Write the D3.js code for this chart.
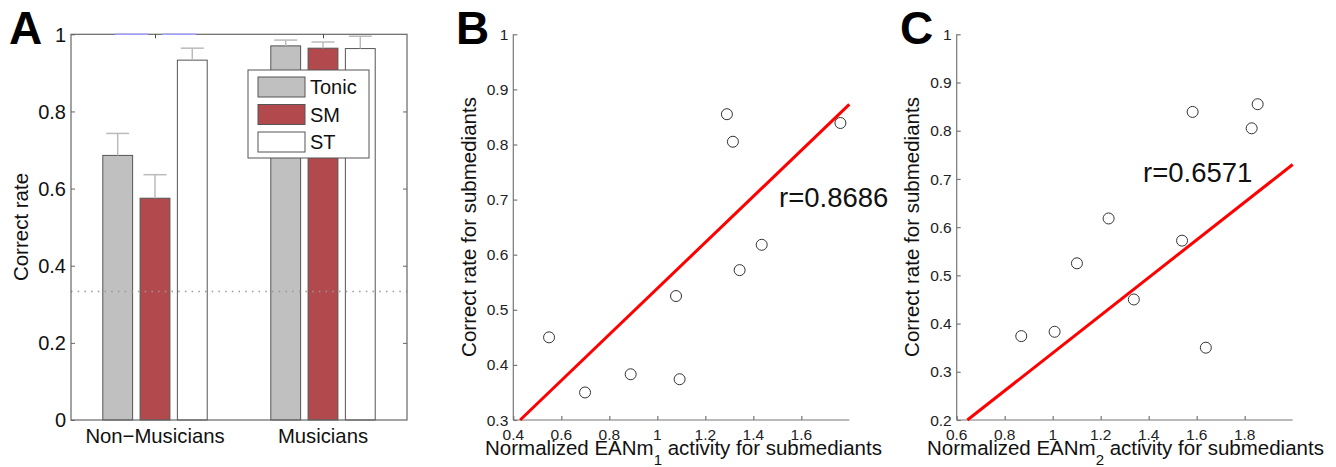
<!DOCTYPE html>
<html>
<head>
<meta charset="utf-8">
<script src="https://cdn.jsdelivr.net/npm/d3@7"></script>
<style>
  body { margin: 0; background: #fff; }
  svg { display: block; font-family: "Liberation Sans", Arial, sans-serif; }
</style>
</head>
<body>
<div id="chart"></div>
<script>
// ---- data ----
var groups = ["Non\u2212Musicians", "Musicians"];
var series = ["Tonic", "SM", "ST"];
var seriesColors = ["#c0c0c0", "#b24a4d", "#ffffff"];
var meanNonMus = [0.686, 0.575, 0.933];
var meanMus = [0.970, 0.964, 0.963];
var semNonMus = [0.057, 0.061, 0.031];
var semMus = [0.015, 0.016, 0.032];
var chanceLevel = 1 / 3;
var sigLines = [[0.762, 0.958], [1.042, 1.244]];
var ticksA = [0, 0.2, 0.4, 0.6, 0.8, 1];

var correctRate = [0.450, 0.350, 0.383, 0.374, 0.525, 0.572, 0.618, 0.855, 0.805, 0.839];
var eanm1 = [0.549, 0.699, 0.889, 1.093, 1.078, 1.343, 1.435, 1.290, 1.315, 1.763];
var eanm2 = [1.338, 1.638, 1.008, 0.869, 1.101, 1.539, 1.233, 1.854, 1.829, 1.583];
var fitB = [0.4177, 0.121];   // slope, intercept
var fitC = [0.391, -0.052];
var rB = "r=0.8686";
var rC = "r=0.6571";
var ticksBx = [0.4, 0.6, 0.8, 1, 1.2, 1.4, 1.6];
var ticksBy = [0.3, 0.4, 0.5, 0.6, 0.7, 0.8, 0.9, 1];
var ticksCx = [0.6, 0.8, 1, 1.2, 1.4, 1.6, 1.8];
var ticksCy = [0.2, 0.3, 0.4, 0.5, 0.6, 0.7, 0.8, 0.9, 1];

var W = 1336, H = 467;
var svg = d3.select("#chart").append("svg")
	.attr("width", W)
	.attr("height", H);

var fmt = d => d3.format("")(+d.toFixed(2));

// ================= Panel A =================
var xA = d3.scaleLinear().domain([0.5, 2.5]).range([71, 407]);
var yA = d3.scaleLinear().domain([0, 1]).range([420, 34.3]);
var xInner = d3.scaleBand().domain(series).range([-0.333, 0.333]).paddingInner(0.2).paddingOuter(0.1);
var pxPerUnit = xA(1) - xA(0);

var barData = [];
groups.forEach(function(g, gi) {
	var means = gi === 0 ? meanNonMus : meanMus;
	var sems = gi === 0 ? semNonMus : semMus;
	series.forEach(function(s, si) {
		barData.push({ g: gi + 1, s: s, si: si, v: means[si], e: sems[si] });
	});
});

var gA = svg.append("g");

// bars
gA.selectAll("rect.bar")
	.data(barData)
	.enter()
	.append("rect")
	.attr("class", "bar")
	.attr("x", d => xA(d.g + xInner(d.s)))
	.attr("y", d => yA(d.v))
	.attr("width", xInner.bandwidth() * pxPerUnit)
	.attr("height", d => yA(0) - yA(d.v))
	.attr("fill", d => seriesColors[d.si])
	.attr("stroke", "#555")
	.attr("stroke-width", 1);

// error bars (upper only)
var eb = gA.selectAll("g.err")
	.data(barData)
	.enter()
	.append("g")
	.attr("class", "err")
	.attr("stroke", "#bbb")
	.attr("stroke-width", 1.5);
eb.append("line")
	.attr("x1", d => xA(d.g + xInner(d.s) + xInner.bandwidth() / 2))
	.attr("x2", d => xA(d.g + xInner(d.s) + xInner.bandwidth() / 2))
	.attr("y1", d => yA(d.v))
	.attr("y2", d => yA(d.v + d.e));
eb.append("line")
	.attr("x1", d => xA(d.g + xInner(d.s) + xInner.bandwidth() / 2) - 11.5)
	.attr("x2", d => xA(d.g + xInner(d.s) + xInner.bandwidth() / 2) + 11.5)
	.attr("y1", d => yA(d.v + d.e))
	.attr("y2", d => yA(d.v + d.e));

// chance line
gA.append("line")
	.attr("x1", xA(0.5)).attr("x2", xA(2.5))
	.attr("y1", yA(chanceLevel)).attr("y2", yA(chanceLevel))
	.attr("stroke", "#999")
	.attr("stroke-width", 1.5)
	.attr("stroke-dasharray", "1.5,5.2");

// box
gA.append("rect")
	.attr("x", xA(0.5)).attr("y", yA(1))
	.attr("width", xA(2.5) - xA(0.5))
	.attr("height", yA(0) - yA(1))
	.attr("fill", "none")
	.attr("stroke", "#666")
	.attr("stroke-width", 1.2);

// significance lines
gA.selectAll("line.sig")
	.data(sigLines)
	.enter()
	.append("line")
	.attr("class", "sig")
	.attr("x1", d => xA(d[0])).attr("x2", d => xA(d[1]))
	.attr("y1", yA(1)).attr("y2", yA(1))
	.attr("stroke", "#a0a0ff")
	.attr("stroke-width", 1.5);

// y axis ticks (left + right, inward)
gA.append("g")
	.attr("transform", `translate(${xA(0.5)},0)`)
	.call(d3.axisRight(yA).tickValues(ticksA).tickSize(4).tickFormat(""))
	.call(g => g.select(".domain").remove())
	.call(g => g.selectAll("line").attr("stroke", "#666"));
gA.append("g")
	.attr("transform", `translate(${xA(2.5)},0)`)
	.call(d3.axisLeft(yA).tickValues(ticksA.slice(1, -1)).tickSize(4).tickFormat(""))
	.call(g => g.select(".domain").remove())
	.call(g => g.selectAll("line").attr("stroke", "#666"));
gA.append("g")
	.attr("transform", `translate(0,${yA(1)})`)
	.call(d3.axisBottom(xA).tickValues([1, 2]).tickSize(4).tickFormat(""))
	.call(g => g.select(".domain").remove())
	.call(g => g.selectAll("line").attr("stroke", "#444"));

gA.selectAll("text.ytickA")
	.data(ticksA)
	.enter()
	.append("text")
	.attr("class", "ytickA")
	.attr("x", 66)
	.attr("y", d => yA(d))
	.attr("dy", "0.36em")
	.attr("text-anchor", "end")
	.attr("font-size", 20)
	.attr("fill", "#111")
	.text(fmt);

gA.selectAll("text.xtickA")
	.data(groups)
	.enter()
	.append("text")
	.attr("class", "xtickA")
	.attr("x", (d, i) => xA(i + 1))
	.attr("y", 443)
	.attr("text-anchor", "middle")
	.attr("font-size", 20.3)
	.attr("fill", "#111")
	.text(d => d);

gA.append("text")
	.attr("transform", "translate(27.5,227) rotate(-90)")
	.attr("text-anchor", "middle")
	.attr("font-size", 20.5)
	.attr("fill", "#111")
	.text("Correct rate");

// legend
var leg = gA.append("g").attr("transform", "translate(248,70)");
leg.append("rect")
	.attr("width", 121).attr("height", 88)
	.attr("fill", "#fff")
	.attr("stroke", "#555")
	.attr("stroke-width", 1);
var li = leg.selectAll("g.li")
	.data(series)
	.enter()
	.append("g")
	.attr("class", "li")
	.attr("transform", (d, i) => `translate(10,${7 + i * 27.5})`);
li.append("rect")
	.attr("width", 47).attr("height", 20)
	.attr("fill", (d, i) => seriesColors[i])
	.attr("stroke", "#555");
li.append("text")
	.attr("x", 52).attr("y", 10)
	.attr("dy", "0.36em")
	.attr("font-size", 20)
	.attr("fill", "#111")
	.text(d => d);

gA.append("text")
	.attr("x", 9).attr("y", 44)
	.attr("font-size", 46).attr("font-weight", "bold")
	.text("A");

// ================= Scatter panels =================
function scatter(opt) {
	var x = d3.scaleLinear().domain(opt.xd).range(opt.xr);
	var y = d3.scaleLinear().domain(opt.yd).range([420, 34.3]);
	var g = svg.append("g");

	g.append("g")
		.attr("transform", `translate(0,${y(opt.yd[0])})`)
		.call(d3.axisTop(x).tickValues(opt.xt).tickSize(4).tickFormat(""))
		.call(s => s.select(".domain").attr("d", `M${opt.xr[0]},0H${opt.xr[1]}`))
		.call(s => s.selectAll("path,line").attr("stroke", "#777").attr("stroke-width", 1.2));
	g.append("g")
		.attr("transform", `translate(${x(opt.xd[0])},0)`)
		.call(d3.axisRight(y).tickValues(opt.yt).tickSize(4).tickFormat(""))
		.call(s => s.select(".domain").attr("d", `M0,${y(opt.yd[1])}V${y(opt.yd[0])}`))
		.call(s => s.selectAll("path,line").attr("stroke", "#777").attr("stroke-width", 1.2));

	g.selectAll("text.yt")
		.data(opt.yt)
		.enter()
		.append("text")
		.attr("x", x(opt.xd[0]) - 5)
		.attr("y", d => y(d))
		.attr("dy", "0.36em")
		.attr("text-anchor", "end")
		.attr("font-size", 15.5)
		.attr("fill", "#222")
		.text(fmt);
	g.selectAll("text.xt")
		.data(opt.xt)
		.enter()
		.append("text")
		.attr("x", d => x(d))
		.attr("y", 440)
		.attr("text-anchor", "middle")
		.attr("font-size", 15.5)
		.attr("fill", "#222")
		.text(fmt);

	// fit line
	var x0 = (opt.yd[0] - opt.fit[1]) / opt.fit[0];
	var x1 = opt.xd[1];
	g.append("line")
		.attr("x1", x(x0)).attr("y1", y(opt.fit[0] * x0 + opt.fit[1]))
		.attr("x2", x(x1)).attr("y2", y(opt.fit[0] * x1 + opt.fit[1]))
		.attr("stroke", "#ff0000")
		.attr("stroke-width", 3);

	g.selectAll("circle")
		.data(opt.xs.map((v, i) => [v, correctRate[i]]))
		.enter()
		.append("circle")
		.attr("cx", d => x(d[0]))
		.attr("cy", d => y(d[1]))
		.attr("r", 5.5)
		.attr("fill", "none")
		.attr("stroke", "#333")
		.attr("stroke-width", 1);

	g.append("text")
		.attr("x", opt.rPos[0]).attr("y", opt.rPos[1])
		.attr("font-size", 27.5)
		.attr("fill", "#111")
		.text(opt.r);

	g.append("text")
		.attr("transform", `translate(${opt.yLabX},227) rotate(-90)`)
		.attr("text-anchor", "middle")
		.attr("font-size", 20.5)
		.attr("fill", "#111")
		.text("Correct rate for submediants");

	var xl = g.append("text")
		.attr("x", opt.xLabX).attr("y", 455)
		.attr("text-anchor", "middle")
		.attr("font-size", 20.5)
		.attr("fill", "#111");
	xl.append("tspan").text("Normalized EANm");
	xl.append("tspan").attr("font-size", 15).attr("dy", 10).text(opt.sub);
	xl.append("tspan").attr("dy", -10).text(" activity for submediants");

	g.append("text")
		.attr("x", opt.labX).attr("y", 44)
		.attr("font-size", 46).attr("font-weight", "bold")
		.text(opt.label);
}

scatter({
	xd: [0.4, 1.8], xr: [513.3, 849.3], yd: [0.3, 1],
	xt: ticksBx, yt: ticksBy, xs: eanm1, fit: fitB, r: rB,
	rPos: [779, 207], yLabX: 476, xLabX: 683.5, sub: "1", label: "B", labX: 456
});
scatter({
	xd: [0.6, 2.0], xr: [956.7, 1292.7], yd: [0.2, 1],
	xt: ticksCx, yt: ticksCy, xs: eanm2, fit: fitC, r: rC,
	rPos: [1143, 182], yLabX: 919, xLabX: 1125.5, sub: "2", label: "C", labX: 900
});
</script>
</body>
</html>
